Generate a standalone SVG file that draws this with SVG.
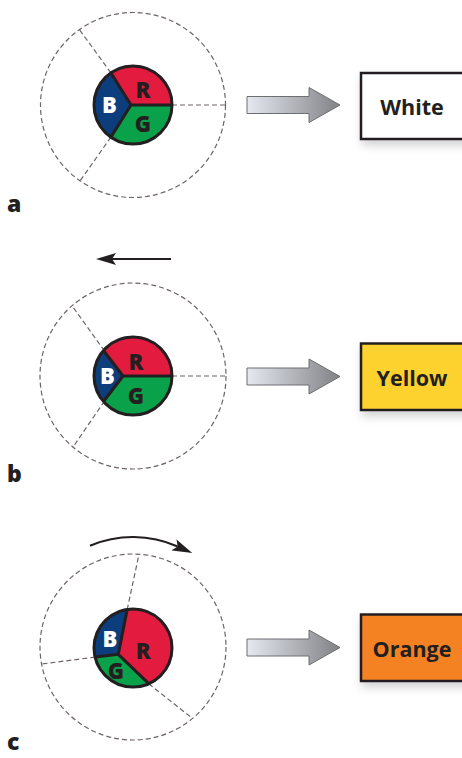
<svg xmlns="http://www.w3.org/2000/svg" width="462" height="758" viewBox="0 0 462 758">
  <defs>
    <linearGradient id="blockGrad" x1="0" y1="0" x2="1" y2="0">
      <stop offset="0" stop-color="#e6e8f2"/>
      <stop offset="1" stop-color="#808285"/>
    </linearGradient>
    <path id="blockArrow" d="M247,-8.5 H309 V-17.5 L340,0 L309,17.5 V8.5 H247 Z" fill="url(#blockGrad)" stroke="#6d6e70" stroke-width="1"/>
    <filter id="shadow" x="-20%" y="-20%" width="150%" height="160%">
      <feDropShadow dx="2" dy="5" stdDeviation="5" flood-color="#000" flood-opacity="0.18"/>
    </filter>
    <marker id="head" viewBox="0 0 20 12" refX="4" refY="6" markerWidth="20" markerHeight="12" markerUnits="userSpaceOnUse" orient="auto">
      <path d="M0,0 L20,6 L0,12 L4,6 Z" fill="#231f20"/>
    </marker>
  </defs>
  <style>
    .outer { fill: none; stroke: #6d6466; stroke-width: 1.2; stroke-dasharray: 5 3; }
    .dash { fill: none; stroke: #6d6466; stroke-width: 1.2; stroke-dasharray: 5 3; }
    .red { fill: #e31b3f; }
    .green { fill: #0aa14b; }
    .blue { fill: #0c3d7c; }
    .div { fill: none; stroke: #231f20; stroke-width: 3; stroke-linejoin: round; }
    .rim { fill: none; stroke: #231f20; stroke-width: 3; }
    .wl { font-family: "Open Sans", "Liberation Sans", sans-serif; font-weight: 800; font-size: 22px; text-anchor: middle; fill: #231f20; }
    .wl.w { fill: #ffffff; }
    .box { stroke: #231f20; stroke-width: 2.5; }
    .bt { font-family: "Open Sans", "Liberation Sans", sans-serif; font-weight: bold; font-size: 21.5px; text-anchor: middle; fill: #231f20; }
    .pl { font-family: "Open Sans", "Liberation Sans", sans-serif; font-weight: 800; font-size: 23px; fill: #231f20; }
    .mv { fill: none; stroke: #231f20; stroke-width: 2.2; }
  </style>

  <!-- Panel a -->
  <g id="wheel-a">
    <circle class="outer" cx="133" cy="105" r="92.5"/>
    <line class="dash" x1="172" y1="105" x2="225.5" y2="105"/>
    <line class="dash" x1="110.9" y1="72.9" x2="79" y2="29"/>
    <line class="dash" x1="110.9" y1="137.1" x2="80" y2="181"/>
    <path class="red" d="M131,105 L110.9,72.9 A39,39 0 0 1 172,105 Z"/>
    <path class="green" d="M131,105 L172,105 A39,39 0 0 1 110.9,137.1 Z"/>
    <path class="blue" d="M131,105 L110.9,137.1 A39,39 0 0 1 110.9,72.9 Z"/>
    <path class="div" d="M172,105 L131,105 L110.9,72.9 M131,105 L110.9,137.1"/>
    <circle class="rim" cx="133" cy="105" r="39"/>
    <text class="wl" x="143" y="98">R</text>
    <text class="wl" x="143" y="132">G</text>
    <text class="wl w" x="109.5" y="112.5">B</text>
  </g>
  <g id="box-a">
    <rect class="box" x="361" y="73" width="115" height="66" fill="#ffffff" filter="url(#shadow)"/>
    <text class="bt" x="412" y="115">White</text>
  </g>
  <text class="pl" x="7" y="212">a</text>

  <!-- Panel b -->
  <g id="wheel-b">
    <circle class="outer" cx="133" cy="376" r="93"/>
    <line class="dash" x1="172" y1="376" x2="226" y2="376"/>
    <line class="dash" x1="104.5" y1="351" x2="72.7" y2="306.7"/>
    <line class="dash" x1="104.5" y1="401" x2="73.3" y2="446.7"/>
    <path class="red" d="M123,376 L103.5,350.5 A39,39 0 0 1 172,376 Z"/>
    <path class="green" d="M123,376 L172,376 A39,39 0 0 1 103.5,401.5 Z"/>
    <path class="blue" d="M123,376 L103.5,401.5 A39,39 0 0 1 103.5,350.5 Z"/>
    <path class="div" d="M172,376 L123,376 L103.5,350.5 M123,376 L103.5,401.5"/>
    <circle class="rim" cx="133" cy="376" r="39"/>
    <text class="wl" x="136" y="370">R</text>
    <text class="wl" x="136" y="403.5">G</text>
    <text class="wl w" x="107.3" y="384">B</text>
  </g>
  <g id="box-b">
    <rect class="box" x="361" y="343.5" width="115" height="66.5" fill="#fdd22e" filter="url(#shadow)"/>
    <text class="bt" x="412" y="386">Yellow</text>
  </g>
  <text class="pl" x="7" y="482">b</text>

  <!-- Panel c -->
  <g id="wheel-c">
    <circle class="outer" cx="133" cy="647" r="93"/>
    <line class="dash" x1="127.2" y1="609.4" x2="139" y2="554.3"/>
    <line class="dash" x1="95.1" y1="657.1" x2="41.7" y2="664"/>
    <line class="dash" x1="148.7" y1="683.7" x2="192.3" y2="718.3"/>
    <path class="red" d="M118.3,654.3 L127.2,609.4 A39,39 0 0 1 148.7,683.7 Z"/>
    <path class="green" d="M118.3,654.3 L148.7,683.7 A39,39 0 0 1 95.1,657.1 Z"/>
    <path class="blue" d="M118.3,654.3 L95.1,657.1 A39,39 0 0 1 127.2,609.4 Z"/>
    <path class="div" d="M127.2,609.4 L118.3,654.3 L95.1,657.1 M118.3,654.3 L148.7,683.7"/>
    <circle class="rim" cx="133" cy="648" r="39"/>
    <text class="wl w" x="110" y="646.5">B</text>
    <text class="wl" x="143.3" y="659">R</text>
    <text class="wl" x="116" y="678.5">G</text>
  </g>
  <g id="box-c">
    <rect class="box" x="361" y="614.5" width="115" height="66.5" fill="#f58220" filter="url(#shadow)"/>
    <text class="bt" x="412" y="657">Orange</text>
  </g>
  <text class="pl" x="7" y="750" font-size="22">c</text>

  <!-- Connectors -->
  <g id="connectors">
    <use href="#blockArrow" transform="translate(0,105)"/>
    <use href="#blockArrow" transform="translate(0,376.5)"/>
    <use href="#blockArrow" transform="translate(0,647.5)"/>
    <line class="mv" x1="171" y1="259" x2="112" y2="259" marker-end="url(#head)"/>
    <path class="mv" d="M90,545.7 A110,110 0 0 1 177.7,546.5" marker-end="url(#head)"/>
  </g>
</svg>
